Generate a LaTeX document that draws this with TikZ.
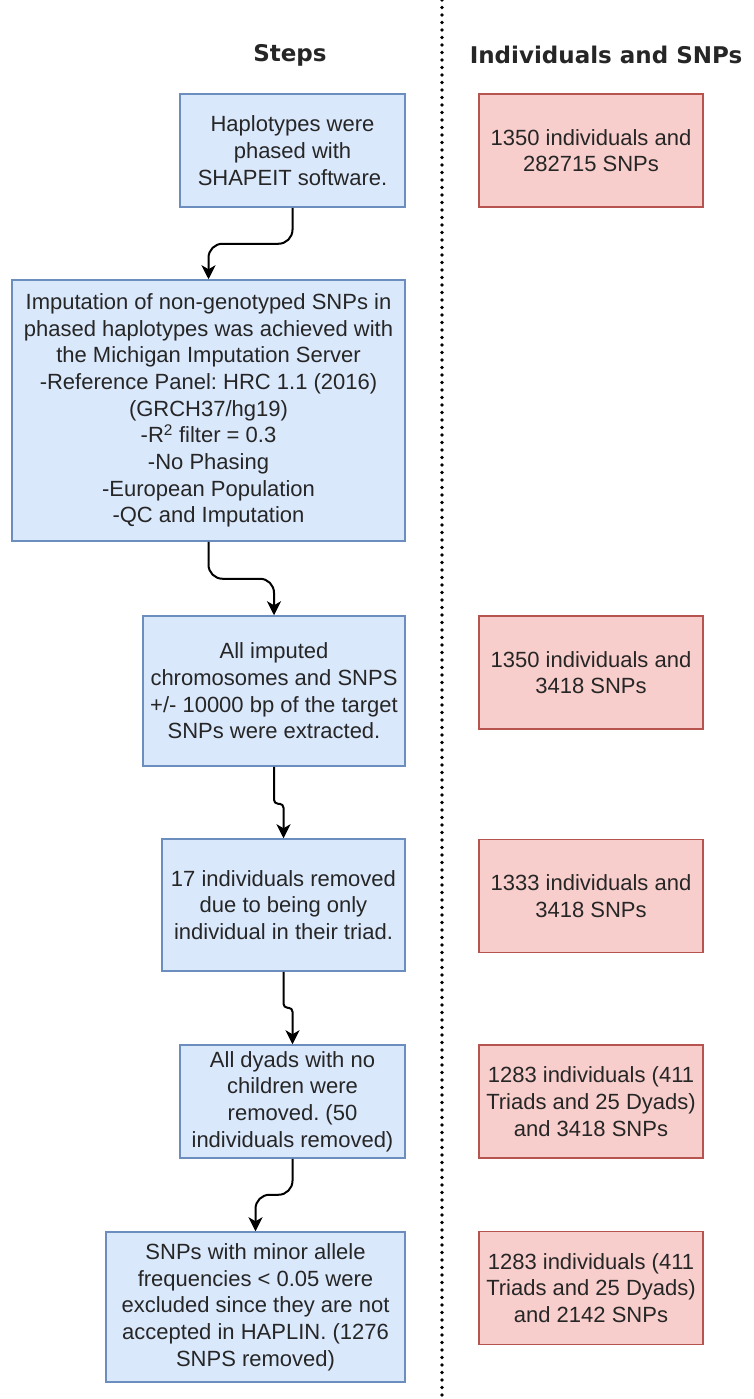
\documentclass[tikz,border=0pt]{standalone}
\usepackage{fontspec}
\setmainfont{Liberation Sans}
\newfontfamily\headfont{DejaVu Sans}
\usepackage{tikz}
\usetikzlibrary{arrows.meta}
\definecolor{stepfill}{HTML}{DAE8FC}
\definecolor{stepline}{HTML}{6C8EBF}
\definecolor{countfill}{HTML}{F8CECC}
\definecolor{countline}{HTML}{B85450}
\frenchspacing

\begin{document}
\begin{tikzpicture}[x=1pt,y=-1pt,
    every node/.style={font=\fontsize{22}{26.7}\selectfont,text=black!85},
    stepbox/.style={draw=stepline,fill=stepfill,line width=1.5pt,align=center,inner sep=2pt},
    countbox/.style={draw=countline,fill=countfill,line width=1.5pt,align=center,inner sep=2pt,
                     minimum width=224pt,minimum height=113pt},
    header/.style={font=\headfont\bfseries\fontsize{23}{28}\selectfont},
    flow/.style={-{Stealth[length=14pt,width=14pt,inset=4pt]},line width=2pt,rounded corners=14pt}]

    \useasboundingbox (0,0) rectangle (754,1399);

    \coordinate (top) at (442,0);
    \coordinate (bottom) at (442,1399);
    \draw[line width=3.6pt,line cap=round,dash pattern=on 0pt off 7.5pt] (top) -- (bottom);

    \node[header]         (steps) at (290, 55)      {Steps};
    \node[header]         (counts) at (606, 55)     {Individuals and SNPs};

    \node[stepbox,minimum width=225pt,minimum height=113pt] (phase) at (292.5, 150.5)
        {Haplotypes were\\phased with\\SHAPEIT software.};
    \node[stepbox,minimum width=393pt,minimum height=261pt] (impute) at (208.5, 410.5)
        {Imputation of non-genotyped SNPs in\\phased haplotypes was achieved with\\the Michigan Imputation Server\\-Reference Panel: HRC 1.1 (2016)\\(GRCH37/hg19)\\-R\textsuperscript{2} filter = 0.3\\-No Phasing\\-European Population\\-QC and Imputation};
    \node[stepbox,minimum width=262pt,minimum height=150pt] (extract) at (274, 691)
        {All imputed\\chromosomes and SNPS\\+/- 10000 bp of the target\\SNPs were extracted.};
    \node[stepbox,minimum width=243pt,minimum height=132pt] (single) at (283.5, 905)
        {17 individuals removed\\due to being only\\individual in their triad.};
    \node[stepbox,minimum width=225pt,minimum height=113pt] (dyads) at (292.5, 1101.5)
        {All dyads with no\\children were\\removed. (50\\individuals removed)};
    \node[stepbox,minimum width=299pt,minimum height=150pt] (maf) at (255.5, 1307)
        {SNPs with minor allele\\frequencies < 0.05 were\\excluded since they are not\\accepted in HAPLIN. (1276\\SNPS removed)};

    \node[countbox]       (c1) at (591, 150.5)      {1350 individuals and\\282715 SNPs};
    \node[countbox]       (c2) at (591, 672.5)      {1350 individuals and\\3418 SNPs};
    \node[countbox]       (c3) at (591, 896)        {1333 individuals and\\3418 SNPs};
    \node[countbox]       (c4) at (591, 1101.5)     {1283 individuals (411\\Triads and 25 Dyads)\\and 3418 SNPs};
    \node[countbox]       (c5) at (591, 1288)       {1283 individuals (411\\Triads and 25 Dyads)\\and 2142 SNPs};

    \draw[flow] (phase.south) -- ++(0,36) -| (impute.north);
    \draw[flow] (impute.south) -- ++(0,37) -| (extract.north);
    \draw[flow,rounded corners=4pt] (extract.south) -- ++(0,37) -| (single.north);
    \draw[flow,rounded corners=4pt] (single.south) -- ++(0,36) -| (dyads.north);
    \draw[flow] (dyads.south) -- ++(0,36) -| (maf.north);
  \end{tikzpicture}
\end{document}
